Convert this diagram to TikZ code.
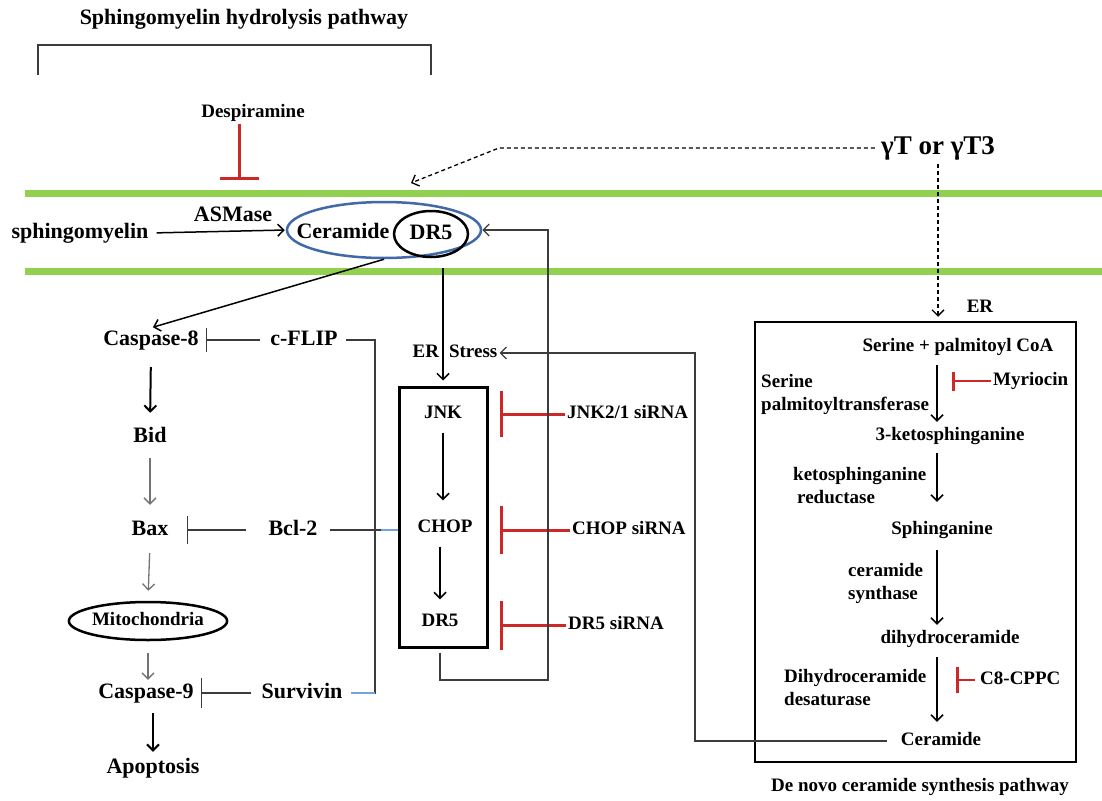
\documentclass[tikz,border=0pt]{standalone}
\usepackage{fontspec}
\setmainfont{Liberation Serif}
\usetikzlibrary{arrows.meta}
\usetikzlibrary{shapes.geometric}
\definecolor{membrane}{RGB}{146,208,80}
\definecolor{raftblue}{RGB}{65,105,170}
\definecolor{linkblue}{RGB}{120,160,220}
\definecolor{inhred}{RGB}{205,40,40}
\definecolor{darkline}{RGB}{60,60,60}
\definecolor{grayarrow}{RGB}{115,115,115}
\tikzset{
  big/.style={font=\fontsize{22}{24}\selectfont\bfseries, inner sep=2pt, text height=15pt, text depth=5pt},
  mid/.style={font=\fontsize{19}{23}\selectfont\bfseries, inner sep=2pt, text height=13pt, text depth=4pt},
  enz/.style={font=\fontsize{19}{23}\selectfont\bfseries, inner sep=0pt, align=left, anchor=west},
  arr/.style={-{Straight Barb[length=6pt,width=12pt]}, line width=1.5pt, shorten <=8pt, shorten >=8pt},
  grayarr/.style={arr, draw=grayarrow, line width=1.3pt},
  link/.style={draw=darkline, line width=1.3pt},
  linkarr/.style={link, -{Straight Barb[length=6pt,width=12pt]}},
  bluelink/.style={draw=linkblue, line width=1.3pt},
  inh/.style={draw=darkline, line width=1.3pt, -{Bar[width=#1]}},
  redinh/.style={draw=inhred, line width=3pt, -{Bar[width=#1]}}
}
\begin{document}
\begin{tikzpicture}[x=1pt, y=-1pt]
\useasboundingbox (0,0) rectangle (1102,800);
\node[big] (title) at (244,20) {Sphingomyelin hydrolysis pathway};
\draw[link] (38,75) -- (38,45) -- (431,45) -- (431,75);
\draw[membrane, line width=7pt] (25,193) -- (1102,193);
\draw[membrane, line width=7pt] (25,271) -- (1102,271);

\node[mid] (desp) at (253,113) {Despiramine};
\coordinate (despbar) at (239,180);
\draw[redinh=39pt, line width=3pt] (despbar |- desp.south) -- (despbar);

\node[font=\fontsize{27}{30}\selectfont\bfseries, inner sep=2pt] (gt) at (938,148) {γT or γT3};
\coordinate (gtend) at (411,183);
\draw[arr, dash pattern=on 4pt off 3pt, line width=1.3pt, shorten <=4pt, shorten >=0pt] (gt.west) -- ++(-380,0) -- (gtend);

\node[big] (sm) at (80,233) {sphingomyelin};
\node[draw=raftblue, line width=2.5pt, ellipse, minimum width=194pt, minimum height=56pt, inner sep=0pt] (raft) at (384,230) {};
\node[big] (cer) at (343,233) {Ceramide};
\node[big, draw, line width=2.5pt, ellipse, minimum width=74pt, minimum height=46pt, inner sep=0pt] (dr5) at (431,234) {DR5};
\node[big] (asm) at (233,216) {ASMase};
\draw[arr, shorten <=6pt, shorten >=1pt] (sm.east) -- (raft.west);

\node[big] (casp8) at (151,340) {Caspase-8};
\node[big] (cflip) at (304,340) {c-FLIP};
\node[big] (bid) at (150,437) {Bid};
\node[big] (bax) at (150,530) {Bax};
\node[big] (bcl2) at (293,530) {Bcl-2};
\node[mid, draw, line width=2.5pt, ellipse, minimum width=158pt, minimum height=38pt, inner sep=0pt] (mito) at (148,621) {Mitochondria};
\node[big] (casp9) at (146,693) {Caspase-9};
\node[big] (surv) at (302,693) {Survivin};
\node[big] (apop) at (153,768) {Apoptosis};

\draw[arr, shorten <=0pt, shorten >=2pt] (raft.south) -- (casp8.north);
\draw[arr, line width=2pt, shorten <=15pt, shorten >=12pt] (casp8.south) -- (bid.north);
\draw[grayarr, shorten <=9pt, shorten >=13pt] (bid.south) -- (bax.north);
\draw[grayarr, shorten <=11pt, shorten >=10pt] (bax.south) -- (mito.north);
\draw[grayarr, shorten <=12pt, shorten >=1pt] (mito.south) -- (mito.south |- casp9.north);
\draw[arr, line width=2pt, shorten <=8pt, shorten >=4pt] (apop.north |- casp9.south) -- (apop.north);

\draw[inh=24pt, shorten <=8pt, shorten >=5pt] (cflip.west) -- (casp8.east);
\draw[inh=28pt, shorten <=20pt, shorten >=16pt] (bcl2.west) -- (bax.east);
\draw[inh=30pt, shorten <=8pt, shorten >=5pt] (surv.west) -- (casp9.east);

\node[mid] (ers) at (455,353) {ER\hspace{10pt}Stress};
\node[draw, line width=3pt, minimum width=88pt, minimum height=260pt, inner sep=0pt] (jnkbox) at (443,517) {};
\node[mid] (jnk) at (443,414) {JNK};
\node[mid] (chop) at (445,528) {CHOP};
\node[mid] (dr5b) at (440,622) {DR5};
\draw[arr, shorten <=10pt, shorten >=5pt] (jnkbox.north |- dr5.south) -- (jnkbox.north);
\draw[arr, shorten <=8pt, shorten >=17pt] (jnk.south) -- (jnk.south |- chop.north);
\draw[arr, shorten <=8pt, shorten >=12pt] (dr5b.north |- chop.south) -- (dr5b.north);

\node[mid, anchor=west] (jnksi) at (565,414) {JNK2/1 siRNA};
\node[mid, anchor=west] (chopsi) at (570,530) {CHOP siRNA};
\node[mid, anchor=west] (dr5si) at (566,625) {DR5 siRNA};
\draw[redinh=46pt, shorten >=11pt] (jnksi.west) -- (jnksi.west -| jnkbox.east);
\draw[redinh=48pt, shorten >=11pt] (chopsi.west) -- (chopsi.west -| jnkbox.east);
\draw[redinh=49pt, shorten >=11pt] (dr5si.west) -- (dr5si.west -| jnkbox.east);

\coordinate (loop) at (548,680);
\draw[linkarr] (jnkbox.south) ++(-3,4) |- (loop) |- (raft.east);

\coordinate (bus) at (375,500);
\draw[link, shorten <=6pt, shorten >=6pt] (cflip.east) -| (bus) |- (surv.east);
\draw[bluelink, shorten >=6pt] (bus |- surv.east) -- (surv.east);
\draw[link, shorten <=10pt] (bcl2.east) -- (bcl2.east -| jnkbox.west);
\draw[bluelink, shorten <=6pt] (bus |- bcl2.east) -- (bcl2.east -| jnkbox.west);

\node[draw, line width=2.5pt, minimum width=321pt, minimum height=440pt, inner sep=0pt] (erbox) at (915.5,542) {};
\node[mid] (erl) at (980,308) {ER};
\draw[arr, dash pattern=on 4pt off 3pt, line width=1.3pt, shorten <=2pt, shorten >=4pt] (gt.south) -- (gt.south |- erbox.north);
\coordinate (axis) at (937,0);
\node[mid] (serine) at (958,347) {Serine + palmitoyl CoA};
\node[mid] (keto) at (950,436) {3-ketosphinganine};
\node[mid] (sphg) at (942,530) {Sphinganine};
\node[mid] (dihy) at (950,639) {dihydroceramide};
\node[mid] (cer2) at (941,741) {Ceramide};
\draw[arr, shorten <=7.5pt, shorten >=3.5pt] (axis |- serine.south) -- (axis |- keto.north);
\draw[arr, shorten <=6.5pt, shorten >=17.5pt] (axis |- keto.south) -- (axis |- sphg.north);
\draw[arr, shorten <=9.5pt, shorten >=3.5pt] (axis |- sphg.south) -- (axis |- dihy.north);
\draw[arr, shorten <=7.5pt, shorten >=8.5pt] (axis |- dihy.south) -- (axis |- cer2.north);
\node[enz] (spt) at (761,394) {Serine\\palmitoyltransferase};
\node[enz] (ksr) at (793,486) {ketosphinganine\\\hspace*{4pt}reductase};
\node[enz] (cs) at (848,583) {ceramide\\synthase};
\node[enz] (dd) at (784,687.5) {Dihydroceramide\\desaturase};
\node[mid, anchor=west] (myr) at (991,381) {Myriocin};
\node[mid, anchor=west] (c8) at (978,680) {C8-CPPC};
\draw[redinh=19pt, line width=2.5pt, shorten >=15pt] (myr.west) -- (axis |- myr.west);
\draw[redinh=26pt, line width=2.5pt, shorten <=3pt, shorten >=19pt] (c8.west) -- (axis |- c8.west);
\draw[linkarr, shorten <=12pt] (cer2.west) -| (695,500) |- (ers.east);
\node[mid] (denovo) at (920,787) {De novo ceramide synthesis pathway};
\end{tikzpicture}
\end{document}
